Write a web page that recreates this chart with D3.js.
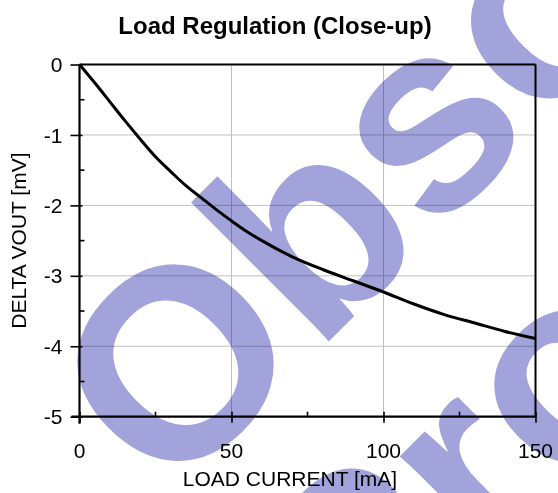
<!DOCTYPE html>
<html>
<head>
<meta charset="utf-8">
<script src="https://cdn.jsdelivr.net/npm/d3@7"></script>
<style>
  html, body { margin: 0; padding: 0; background: #fff; }
  svg { display: block; }
  text { font-family: "Liberation Sans", Arial, sans-serif; }
</style>
</head>
<body>
<script>
// ---- data ----
const currentMA = [0, 5, 10, 15, 20, 25, 30, 35, 40, 45, 50, 55, 60, 70, 80, 90, 100, 110, 120, 130, 140, 150];
const deltaVoutMV = [0, -0.26, -0.53, -0.80, -1.06, -1.31, -1.52, -1.72, -1.89, -2.06, -2.22, -2.37, -2.50, -2.73, -2.91, -3.07, -3.23, -3.40, -3.55, -3.67, -3.79, -3.89];
const xTicks = [0, 50, 100, 150];
const xMinorTicks = [25, 75, 125];
const yTicks = [0, -1, -2, -3, -4, -5];
const yMinorTicks = [-0.5, -1.5, -2.5, -3.5, -4.5];
const titleText = "Load Regulation (Close-up)";
const xLabel = "LOAD CURRENT [mA]";
const yLabel = "DELTA VOUT [mV]";
const watermarkLines = ["Obsolete", "Product"];

// ---- layout ----
const W = 558, H = 493;
const m = { left: 79.5, right: 535.5, top: 64.5, bottom: 416.7 };

const svg = d3.select("body").append("svg").attr("width", W).attr("height", H);

const x = d3.scaleLinear().domain([0, 150]).range([m.left, m.right]);
const y = d3.scaleLinear().domain([-5, 0]).range([m.bottom, m.top]);

// grid
const grid = svg.append("g");
grid.selectAll("line.vg").data(xTicks.filter(d => d > 0 && d < 150)).enter().append("line")
  .attr("x1", d => x(d)).attr("x2", d => x(d)).attr("y1", m.top).attr("y2", m.bottom)
  .attr("stroke", "#c0c0c0").attr("stroke-width", 1);
grid.selectAll("line.hg").data(yTicks.filter(d => d < 0 && d > -5)).enter().append("line")
  .attr("x1", m.left).attr("x2", m.right).attr("y1", d => y(d)).attr("y2", d => y(d))
  .attr("stroke", "#c0c0c0").attr("stroke-width", 1);

// frame top/right
svg.append("line").attr("x1", m.left).attr("x2", m.right).attr("y1", m.top).attr("y2", m.top)
  .attr("stroke", "#000").attr("stroke-width", 2);
svg.append("line").attr("x1", m.right).attr("x2", m.right).attr("y1", m.top).attr("y2", m.bottom)
  .attr("stroke", "#000").attr("stroke-width", 2);

// axes
const xAxis = d3.axisBottom(x).tickValues(xTicks).tickSize(0).tickPadding(0);
const gx = svg.append("g").attr("transform", `translate(0,${m.bottom})`).call(xAxis);
gx.select(".domain").remove();
gx.selectAll(".tick text").remove();
gx.append("line").attr("x1", m.left - 8).attr("x2", m.right).attr("stroke", "#000").attr("stroke-width", 2.2);
gx.selectAll(".tick").append("line").attr("y1", -5).attr("y2", 6).attr("stroke", "#000").attr("stroke-width", 1.6);
gx.selectAll(".minor").data(xMinorTicks).enter().append("line")
  .attr("x1", d => x(d)).attr("x2", d => x(d)).attr("y1", -5).attr("y2", 0)
  .attr("stroke", "#000").attr("stroke-width", 1.6);
gx.selectAll(".lbl").data(xTicks).enter().append("text")
  .attr("x", d => x(d)).attr("y", 41).attr("text-anchor", "middle")
  .attr("font-size", 21).attr("fill", "#000").text(d => d);

const yAxis = d3.axisLeft(y).tickValues(yTicks).tickSize(0).tickPadding(0);
const gy = svg.append("g").attr("transform", `translate(${m.left},0)`).call(yAxis);
gy.select(".domain").remove();
gy.selectAll(".tick text").remove();
gy.append("line").attr("y1", m.top).attr("y2", m.bottom + 7).attr("stroke", "#000").attr("stroke-width", 2.2);
gy.selectAll(".tick").append("line").attr("x1", -9).attr("x2", 3).attr("stroke", "#000").attr("stroke-width", 1.6);
gy.selectAll(".minor").data(yMinorTicks).enter().append("line")
  .attr("y1", d => y(d)).attr("y2", d => y(d)).attr("x1", 0).attr("x2", 5)
  .attr("stroke", "#000").attr("stroke-width", 1.6);
gy.selectAll(".lbl").data(yTicks).enter().append("text")
  .attr("x", -17).attr("y", d => y(d)).attr("dy", "0.36em").attr("text-anchor", "end")
  .attr("font-size", 21).attr("fill", "#000").text(d => d);

// data line
const line = d3.line().x((d, i) => x(currentMA[i])).y(d => y(d)).curve(d3.curveMonotoneX);
svg.append("path").datum(deltaVoutMV).attr("d", line)
  .attr("fill", "none").attr("stroke", "#000").attr("stroke-width", 3).attr("stroke-linejoin", "round");

// titles
svg.append("text").attr("x", 275).attr("y", 34).attr("text-anchor", "middle")
  .attr("font-size", 24).attr("font-weight", "bold").attr("fill", "#000").text(titleText);
svg.append("text").attr("x", 290).attr("y", 486).attr("text-anchor", "middle")
  .attr("font-size", 21).attr("fill", "#000").text(xLabel);
svg.append("text").attr("transform", `translate(26,${(m.top + m.bottom) / 2}) rotate(-90)`)
  .attr("text-anchor", "middle").attr("font-size", 21).attr("fill", "#000").text(yLabel);

// watermark
const wmOrigins = [[167.6, 502.7], [360.6, 697.2]];
svg.append("g")
  .selectAll("text").data(watermarkLines).enter().append("text")
  .attr("transform", (d, i) => `translate(${wmOrigins[i][0]},${wmOrigins[i][1]}) rotate(-45)`)
  .attr("font-size", 270).attr("font-weight", "bold").attr("fill", "#a3a3db")
  .style("mix-blend-mode", "multiply")
  .text(d => d);
</script>
</body>
</html>
